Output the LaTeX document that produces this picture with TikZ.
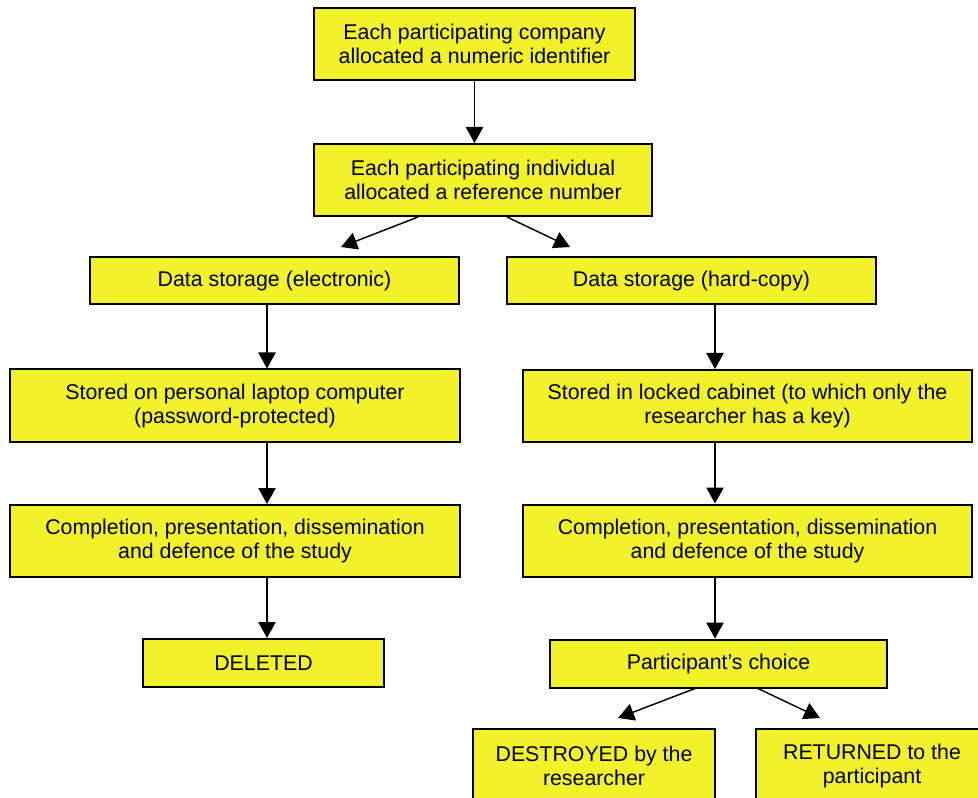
\documentclass[tikz,border=0pt]{standalone}
\usepackage{fontspec}
\setmainfont{Liberation Sans}
\usepackage{tikz}
\usetikzlibrary{positioning, arrows.meta, calc}
\usepackage{xcolor}
\definecolor{boxyellow}{RGB}{242, 242, 42}

\begin{document}
\begin{tikzpicture}[x=0.75pt, y=-0.75pt,
    every node/.style={font=\fontsize{16}{18}\selectfont},
    box/.style={draw, fill=boxyellow, line width=1.5pt, align=center, inner sep=0pt},
    arr/.style={line width=1.1pt, -{Triangle[length=12pt, width=13pt]}}]
      \useasboundingbox (0,0) rectangle (978,798);
      \clip (0,0) rectangle (978,798);
      % top of the chart
      \node[box, minimum width=240.75pt, minimum height=54pt] (company) at (474.5, 44) {Each participating company\\allocated a numeric identifier};
      \node[box, minimum width=253.5pt, minimum height=54pt] (individual) at (483, 180) {Each participating individual\\allocated a reference number};
      % electronic branch
      \node[box, minimum width=276.75pt, minimum height=35.5pt] (elec) at (274.5, 280.5) {Data storage (electronic)};
      \node[box, minimum width=337.5pt, minimum height=54pt] (laptop) at (235, 405.5) {Stored on personal laptop computer\\(password-protected)};
      \node[box, minimum width=337.5pt, minimum height=54pt] (doneE) at (235, 541) {Completion, presentation, dissemination\\and defence of the study};
      \node[box, minimum width=180.75pt, minimum height=36pt] (deleted) at (263.5, 663) {DELETED};
      % hard-copy branch
      \node[box, minimum width=276.75pt, minimum height=35.5pt] (hard) at (691.5, 280.5) {Data storage (hard-copy)};
      \node[box, minimum width=336.75pt, minimum height=54pt] (cabinet) at (747.5, 406) {Stored in locked cabinet (to which only the\\researcher has a key)};
      \node[box, minimum width=336.75pt, minimum height=54pt] (doneH) at (747.5, 540.5) {Completion, presentation, dissemination\\and defence of the study};
      \node[box, minimum width=252.75pt, minimum height=36pt] (choice) at (718.5, 663.5) {Participant’s choice};
      \node[box, minimum width=181.5pt, minimum height=55.5pt] (destroyed) at (594, 766) {DESTROYED by the\\researcher};
      \node[box, minimum width=174pt, minimum height=55.5pt] (returned) at (872, 766) {RETURNED to the\\participant};
      % columns and free arrow ends
      \coordinate (lcol) at (267, 0);
      \coordinate (rcol) at (715, 0);
      \coordinate (tipE) at (341, 247);
      \coordinate (tipH) at (570, 247);
      \coordinate (tipD) at (618, 718);
      \coordinate (tipR) at (820, 718);
      \draw[arr] (company.south) -- (company.south |- individual.north);
      \draw[arr] ($(individual.south)+(-65,0)$) -- (tipE);
      \draw[arr] ($(individual.south)+(24,0)$) -- (tipH);
      \draw[arr] (elec.south -| lcol) -- (laptop.north -| lcol);
      \draw[arr] (laptop.south -| lcol) -- (doneE.north -| lcol);
      \draw[arr] (doneE.south -| lcol) -- (deleted.north -| lcol);
      \draw[arr] (hard.south -| rcol) -- (cabinet.north -| rcol);
      \draw[arr] (cabinet.south -| rcol) -- (doneH.north -| rcol);
      \draw[arr] (doneH.south -| rcol) -- (choice.north -| rcol);
      \draw[arr] ($(choice.south)+(-23.5,0)$) -- (tipD);
      \draw[arr] ($(choice.south)+(39.5,0)$) -- (tipR);
    \end{tikzpicture}
\end{document}
